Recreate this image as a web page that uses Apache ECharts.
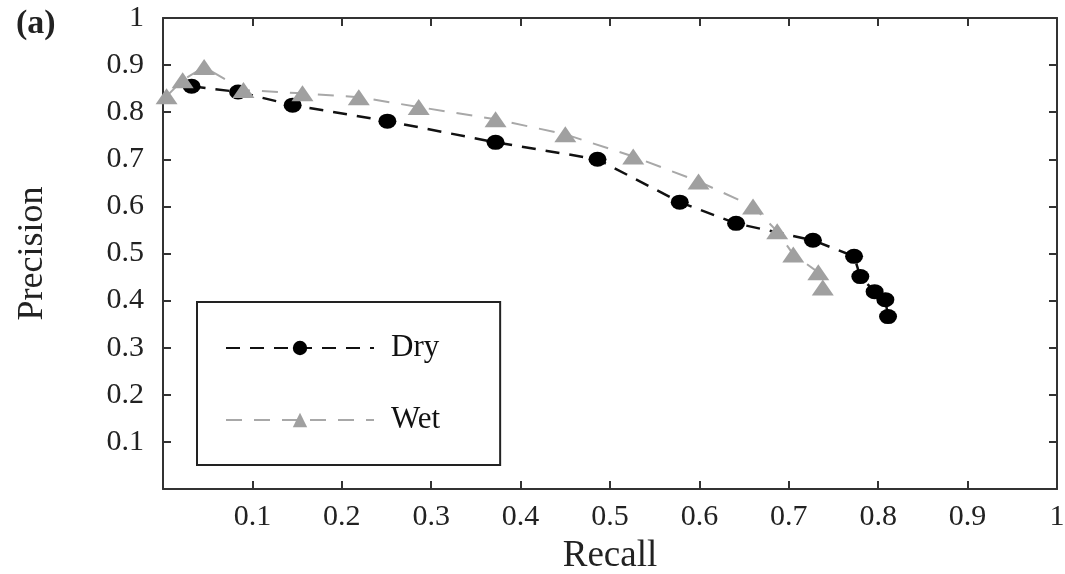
<!DOCTYPE html>
<html>
<head>
<meta charset="utf-8">
<script src="https://cdn.jsdelivr.net/npm/echarts@6/dist/echarts.min.js"></script>
<style>
  html, body { margin: 0; padding: 0; background: #fff; }
  #chart { width: 1065px; height: 574px; }
</style>
</head>
<body>
<div id="chart"></div>
<script>
// recall / precision pairs
const dryRecall = [0.032, 0.084, 0.145, 0.251, 0.372, 0.486, 0.578, 0.641, 0.727, 0.773, 0.780, 0.796, 0.808, 0.811]
const dryPrecision = [0.855, 0.843, 0.815, 0.781, 0.736, 0.700, 0.609, 0.564, 0.528, 0.494, 0.451, 0.419, 0.402, 0.366]

const wetRecall = [0.004, 0.022, 0.046, 0.090, 0.156, 0.219, 0.286, 0.372, 0.450, 0.526, 0.599, 0.660, 0.687, 0.705, 0.733, 0.738]
const wetPrecision = [0.834, 0.868, 0.896, 0.847, 0.840, 0.832, 0.811, 0.785, 0.753, 0.706, 0.653, 0.600, 0.547, 0.498, 0.460, 0.428]

const seriesNames = ['Dry', 'Wet']
const axisRange = [0, 1]
const tickStep = 0.1

const pairs = (xs, ys) => xs.map((x, i) => [x, ys[i]])

const serif = '"Liberation Serif", "Times New Roman", serif'

const chart = echarts.init(document.getElementById('chart'), null, { renderer: 'canvas' })

// shared look of the four frame sides (ticks point inward)
const frameAxis = {
  type: 'value',
  min: axisRange[0],
  max: axisRange[1],
  interval: tickStep,
  axisLine: { show: true, onZero: false, lineStyle: { color: '#333', width: 2 } },
  axisTick: { show: true, inside: true, length: 8, lineStyle: { color: '#333', width: 2 } },
  splitLine: { show: false },
}

const option = {
  backgroundColor: '#fff',
  animation: false,
  title: {
    text: '(a)',
    left: 11,
    top: 2,
    textStyle: { fontFamily: serif, fontSize: 34, fontWeight: 'bold', color: '#222' },
  },
  grid: { left: 163, right: 8, top: 18, bottom: 85, outerBoundsMode: 'none' },
  legend: {
    data: seriesNames,
    orient: 'vertical',
    left: 197,
    top: 302,
    itemWidth: 148,
    itemHeight: 18,
    itemGap: 36,
    padding: [28, 60, 27, 28],
    borderColor: '#222',
    borderWidth: 2,
    textStyle: { fontFamily: serif, fontSize: 31, color: '#111', lineHeight: 36, padding: [0, 0, 0, 12] },
  },
  xAxis: [
    Object.assign({}, frameAxis, {
      position: 'bottom',
      name: 'Recall',
      nameLocation: 'middle',
      nameGap: 49,
      nameTextStyle: { fontFamily: serif, fontSize: 37, color: '#222' },
      axisLabel: { showMinLabel: false, margin: 13, fontFamily: serif, fontSize: 30, color: '#222' },
    }),
    Object.assign({}, frameAxis, { position: 'top', axisLabel: { show: false } }),
  ],
  yAxis: [
    Object.assign({}, frameAxis, {
      position: 'left',
      name: 'Precision',
      nameLocation: 'middle',
      nameGap: 112,
      nameTextStyle: { fontFamily: serif, fontSize: 36, color: '#222' },
      axisLabel: { showMinLabel: false, margin: 19, fontFamily: serif, fontSize: 30, color: '#222' },
    }),
    Object.assign({}, frameAxis, { position: 'right', axisLabel: { show: false } }),
  ],
  series: [
    {
      name: 'Dry',
      type: 'line',
      xAxisIndex: 0,
      yAxisIndex: 0,
      data: pairs(dryRecall, dryPrecision),
      symbol: 'circle',
      symbolSize: [18, 15],
      itemStyle: { color: '#000' },
      lineStyle: { color: '#111', width: 2.5, type: [14, 10] },
    },
    {
      name: 'Wet',
      type: 'line',
      xAxisIndex: 0,
      yAxisIndex: 0,
      data: pairs(wetRecall, wetPrecision),
      symbol: 'triangle',
      symbolSize: [22, 16],
      itemStyle: { color: '#a0a0a0' },
      lineStyle: { color: '#a8a8a8', width: 2, type: [16, 12] },
    },
  ],
}

chart.setOption(option)
</script>
</body>
</html>
